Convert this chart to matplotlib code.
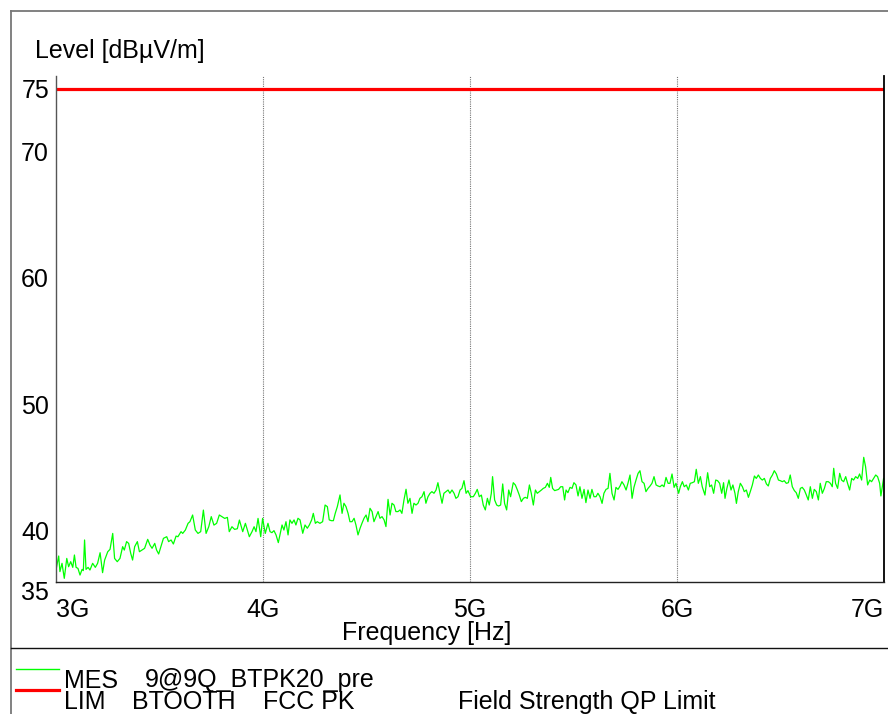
import matplotlib
matplotlib.use("Agg")
import matplotlib.pyplot as plt
from matplotlib.lines import Line2D

plt.rcParams['font.family'] = ['Liberation Sans', 'DejaVu Sans']

# ---- data (frequency in GHz, level in dBuV/m) ----
freq_ghz = [
    3.000, 3.013, 3.019, 3.029, 3.040, 3.052, 3.061, 3.071, 3.081, 3.089, 3.097, 3.106, 3.116, 3.126, 3.132,
    3.138, 3.145, 3.155, 3.164, 3.177, 3.190, 3.201, 3.213, 3.225, 3.235, 3.250, 3.261, 3.274, 3.283, 3.296,
    3.309, 3.322, 3.330, 3.341, 3.351, 3.361, 3.370, 3.380, 3.393, 3.403, 3.415, 3.428, 3.443, 3.454, 3.464,
    3.477, 3.486, 3.496, 3.507, 3.519, 3.535, 3.544, 3.556, 3.567, 3.580, 3.589, 3.604, 3.612, 3.625, 3.638,
    3.647, 3.660, 3.673, 3.686, 3.699, 3.712, 3.725, 3.738, 3.750, 3.763, 3.776, 3.789, 3.802, 3.815, 3.828,
    3.837, 3.850, 3.863, 3.876, 3.886, 3.902, 3.915, 3.934, 3.947, 3.957, 3.966, 3.976, 3.989, 3.998, 4.011,
    4.024, 4.034, 4.043, 4.053, 4.063, 4.074, 4.082, 4.092, 4.101, 4.111, 4.121, 4.130, 4.140, 4.150, 4.159,
    4.169, 4.179, 4.192, 4.203, 4.214, 4.224, 4.235, 4.243, 4.253, 4.262, 4.275, 4.288, 4.300, 4.311, 4.320,
    4.330, 4.340, 4.349, 4.359, 4.372, 4.382, 4.391, 4.401, 4.411, 4.420, 4.430, 4.440, 4.449, 4.459, 4.469,
    4.478, 4.488, 4.498, 4.507, 4.517, 4.527, 4.536, 4.546, 4.556, 4.565, 4.575, 4.585, 4.594, 4.604, 4.614,
    4.623, 4.633, 4.642, 4.652, 4.662, 4.671, 4.681, 4.691, 4.700, 4.710, 4.720, 4.729, 4.739, 4.749, 4.758,
    4.768, 4.778, 4.787, 4.797, 4.807, 4.816, 4.826, 4.836, 4.845, 4.855, 4.865, 4.874, 4.884, 4.894, 4.903,
    4.913, 4.923, 4.932, 4.942, 4.952, 4.961, 4.971, 4.981, 4.990, 5.003,
    5.016, 5.026, 5.035, 5.045, 5.055, 5.064, 5.074, 5.084, 5.093, 5.103, 5.109, 5.119, 5.129, 5.138, 5.148,
    5.158, 5.167, 5.177, 5.187, 5.196, 5.209, 5.219, 5.229, 5.238, 5.248, 5.258, 5.267, 5.277, 5.287, 5.296,
    5.306, 5.316, 5.325, 5.335, 5.345, 5.354, 5.364, 5.374, 5.383, 5.390, 5.399, 5.409, 5.419, 5.428, 5.438,
    5.448, 5.457, 5.464, 5.473, 5.483, 5.493, 5.502, 5.512, 5.522, 5.531, 5.541, 5.551, 5.560, 5.570, 5.580,
    5.589, 5.599, 5.609, 5.618, 5.628, 5.638, 5.647, 5.657, 5.667, 5.676, 5.686, 5.696, 5.705, 5.715, 5.725,
    5.734, 5.744, 5.754, 5.763, 5.773, 5.783, 5.792, 5.802, 5.812, 5.821, 5.831, 5.841, 5.850, 5.860, 5.870,
    5.879, 5.889, 5.899, 5.908, 5.918, 5.928, 5.937, 5.947, 5.957, 5.966, 5.976, 5.986, 5.995, 6.008,
    6.016, 6.026, 6.035, 6.045, 6.055, 6.064, 6.074, 6.084, 6.093, 6.103, 6.113, 6.122, 6.135, 6.148, 6.158,
    6.167, 6.177, 6.187, 6.196, 6.206, 6.216, 6.225, 6.232, 6.241, 6.251, 6.261, 6.270, 6.280, 6.287, 6.296,
    6.306, 6.316, 6.325, 6.335, 6.345, 6.354, 6.364, 6.374, 6.383, 6.393, 6.403, 6.412, 6.422, 6.432, 6.441,
    6.451, 6.461, 6.470, 6.480, 6.490, 6.499, 6.509, 6.518, 6.528, 6.538, 6.547, 6.557, 6.567, 6.576, 6.586,
    6.596, 6.605, 6.615, 6.625, 6.634, 6.644, 6.654, 6.663, 6.673, 6.683, 6.692, 6.702, 6.712, 6.721, 6.731,
    6.741, 6.750, 6.757, 6.766, 6.776, 6.786, 6.795, 6.805, 6.815, 6.824, 6.834, 6.844, 6.853, 6.863, 6.873,
    6.882, 6.892, 6.902, 6.911, 6.921, 6.931, 6.940, 6.950, 6.960, 6.969, 6.979, 6.985, 6.998,
]

level_mes = [
    36.85, 37.96, 36.72, 37.38, 36.19, 37.77, 37.11, 37.51, 37.06, 38.04, 37.06, 36.98, 36.45, 36.90, 36.80,
    39.23, 36.90, 37.06, 36.85, 37.38, 37.06, 37.38, 38.22, 36.64, 37.64, 38.30, 38.49, 39.75, 37.77, 37.51,
    37.77, 38.70, 38.43, 39.10, 38.96, 38.17, 37.64, 38.70, 39.10, 38.30, 38.43, 38.57, 39.28, 38.83, 38.57,
    38.96, 38.43, 38.12, 38.70, 39.36, 39.49, 39.10, 39.23, 38.91, 39.54, 39.49, 39.89, 39.75, 40.02, 40.55,
    40.68, 41.21, 40.02, 39.75, 39.89, 41.60, 39.75, 40.28, 41.08, 40.41, 40.55, 41.21, 41.08, 40.94, 41.02,
    39.89, 40.28, 40.07, 40.12, 40.81, 39.89, 40.55, 39.49, 39.89, 40.28, 39.89, 40.94, 39.49, 40.94, 39.75,
    40.55, 39.89, 39.81, 39.97, 39.63, 39.02, 39.63, 40.42, 40.02, 40.68, 39.63, 40.82, 40.55, 40.82, 40.42,
    40.95, 40.82, 39.76, 40.42, 40.16, 40.42, 40.82, 41.34, 40.55, 40.68, 40.55, 40.68, 42.00, 41.87, 40.82,
    40.76, 40.76, 41.34, 41.87, 42.80, 41.34, 42.14, 41.87, 41.34, 40.68, 40.68, 40.95, 40.42, 39.63, 40.16,
    40.55, 40.95, 41.21, 40.68, 41.74, 41.48, 40.68, 41.08, 41.48, 40.95, 41.08, 40.82, 40.29, 42.45, 41.21,
    42.14, 42.00, 41.48, 41.48, 41.61, 41.34, 42.40, 43.25, 42.14, 42.53, 41.34, 42.14, 42.00, 42.14, 42.53,
    42.66, 43.06, 42.14, 42.66, 42.93, 43.06, 42.93, 43.19, 43.77, 42.93, 42.14, 42.93, 43.06, 43.19, 42.93,
    43.19, 42.93, 42.53, 42.66, 43.19, 43.32, 43.93, 42.93, 43.14, 42.66,
    42.66, 42.93, 43.24, 42.66, 42.79, 42.00, 41.61, 42.53, 42.00, 42.93, 44.25, 42.40, 42.00, 41.92, 42.00,
    43.67, 42.13, 41.61, 43.19, 42.66, 43.77, 43.59, 43.19, 42.79, 42.27, 42.53, 42.61, 42.53, 43.59, 42.93,
    42.00, 43.19, 42.93, 43.06, 43.19, 43.32, 43.40, 43.72, 43.40, 44.19, 43.32, 43.14, 43.19, 43.24, 43.45,
    43.45, 42.40, 43.19, 42.98, 43.40, 43.32, 43.77, 43.59, 42.72, 43.45, 42.53, 43.24, 42.19, 43.19, 42.53,
    43.24, 42.66, 42.66, 42.93, 42.66, 42.13, 42.93, 43.24, 43.32, 44.51, 42.93, 42.40, 43.40, 43.24, 43.51,
    43.85, 43.59, 43.19, 43.72, 44.38, 42.53, 43.40, 43.98, 44.51, 44.72, 43.85, 43.72, 43.06, 43.32, 43.51,
    43.72, 44.25, 43.59, 43.51, 43.45, 43.59, 43.45, 44.19, 43.72, 43.72, 44.46, 43.40, 43.72, 42.93,
    43.45, 43.85, 43.45, 43.59, 43.19, 43.72, 43.77, 43.85, 44.83, 43.72, 44.25, 43.45, 42.79, 44.56, 43.45,
    43.59, 42.93, 43.98, 43.93, 43.72, 42.93, 43.77, 42.53, 43.32, 43.98, 43.19, 43.59, 42.93, 42.13, 43.06,
    43.72, 43.45, 43.06, 43.19, 42.61, 43.06, 43.59, 44.30, 44.11, 44.38, 44.11, 43.98, 44.11, 43.67, 43.51,
    44.11, 44.38, 44.72, 44.46, 43.98, 43.93, 43.85, 43.93, 43.72, 43.77, 44.38, 43.45, 43.14, 42.98, 42.53,
    43.32, 43.40, 43.19, 42.79, 42.40, 43.45, 42.53, 43.24, 43.06, 42.40, 43.72, 42.93, 43.32, 43.85, 43.85,
    43.72, 43.45, 44.91, 43.72, 43.32, 44.51, 43.98, 43.85, 44.25, 43.72, 43.19, 44.11, 43.98, 44.25, 44.11,
    44.46, 43.98, 45.78, 45.04, 43.59, 43.98, 43.85, 44.11, 44.38, 44.25, 43.72, 42.72, 44.11,
]

limit_freq_ghz = [3.0, 7.0]
limit_level = [75.0, 75.0]

y_ticks = [40, 50, 60, 70, 75]
x_ticks_ghz = [3, 4, 5, 6, 7]
x_tick_labels = ["3G", "4G", "5G", "6G", "7G"]

FS = 18
W, H = 888, 714
fig = plt.figure(figsize=(W / 100, H / 100), dpi=100)

def fx(px):
    return px / W

def fy(py):
    return 1 - py / H

ax = fig.add_axes([fx(56), fy(582), fx(884) - fx(56), fy(76) - fy(582)])

ax.plot(freq_ghz, level_mes, color="#00ff00", lw=0.9)
ax.plot(limit_freq_ghz, limit_level, color="#ff0000", lw=2.3)

ax.set_xlim(3, 7)
ax.set_ylim(35.9, 76.0)

ax.set_yticks(y_ticks)
ax.set_yticklabels([str(v) for v in y_ticks], fontsize=FS)
ax.set_xticks(x_ticks_ghz)
ax.set_xticklabels(x_tick_labels, fontsize=FS)
ax.tick_params(axis="both", length=0)
ax.tick_params(axis="y", pad=5)
ax.tick_params(axis="x", pad=25)
xl = ax.get_xticklabels()
for t in xl:
    t.set_verticalalignment("baseline")
xl[0].set_horizontalalignment("left")
xl[-1].set_horizontalalignment("right")

for g in x_ticks_ghz[1:-1]:
    ax.axvline(g, color="#777777", lw=0.8, ls=(0, (1, 1)), zorder=0)

ax.spines["top"].set_visible(False)
ax.spines["left"].set_color("#555555")
ax.spines["left"].set_linewidth(1.0)
ax.spines["bottom"].set_color("#222222")
ax.spines["bottom"].set_linewidth(1.0)
ax.spines["right"].set_color("#000000")
ax.spines["right"].set_linewidth(1.3)

# "35" bottom label
fig.text(fx(49), fy(600.5), "35", fontsize=FS, ha="right", va="baseline")

# axis titles
fig.text(fx(35), fy(58), "Level [dB\u00b5V/m]", fontsize=FS, ha="left", va="baseline")
fig.text(fx(342), fy(640), "Frequency [Hz]", fontsize=FS, ha="left", va="baseline")

# outer frame
fig.add_artist(Line2D([fx(11), fx(11)], [fy(11), fy(714)], color="#777777", lw=1.3))
fig.add_artist(Line2D([fx(11), fx(888)], [fy(11), fy(11)], color="#777777", lw=1.3))
fig.add_artist(Line2D([fx(11), fx(888)], [fy(648), fy(648)], color="#111111", lw=1.0))

# legend
fig.add_artist(Line2D([fx(16), fx(59)], [fy(668.5), fy(668.5)], color="#00ff00", lw=1.0))
fig.add_artist(Line2D([fx(16), fx(59)], [fy(690), fy(690)], color="#ff0000", lw=2.3))
fig.text(fx(64), fy(687.5), "MES", fontsize=FS, ha="left", va="baseline")
fig.text(fx(145), fy(687.5), "9@9Q_BTPK20_pre", fontsize=FS, ha="left", va="baseline")
fig.text(fx(64), fy(709), "LIM", fontsize=FS, ha="left", va="baseline")
fig.text(fx(132), fy(709), "BTOOTH", fontsize=FS, ha="left", va="baseline")
fig.text(fx(263), fy(709), "FCC PK", fontsize=FS, ha="left", va="baseline")
fig.text(fx(458), fy(709), "Field Strength QP Limit", fontsize=FS, ha="left", va="baseline")

fig.savefig("out.png", dpi=100)
